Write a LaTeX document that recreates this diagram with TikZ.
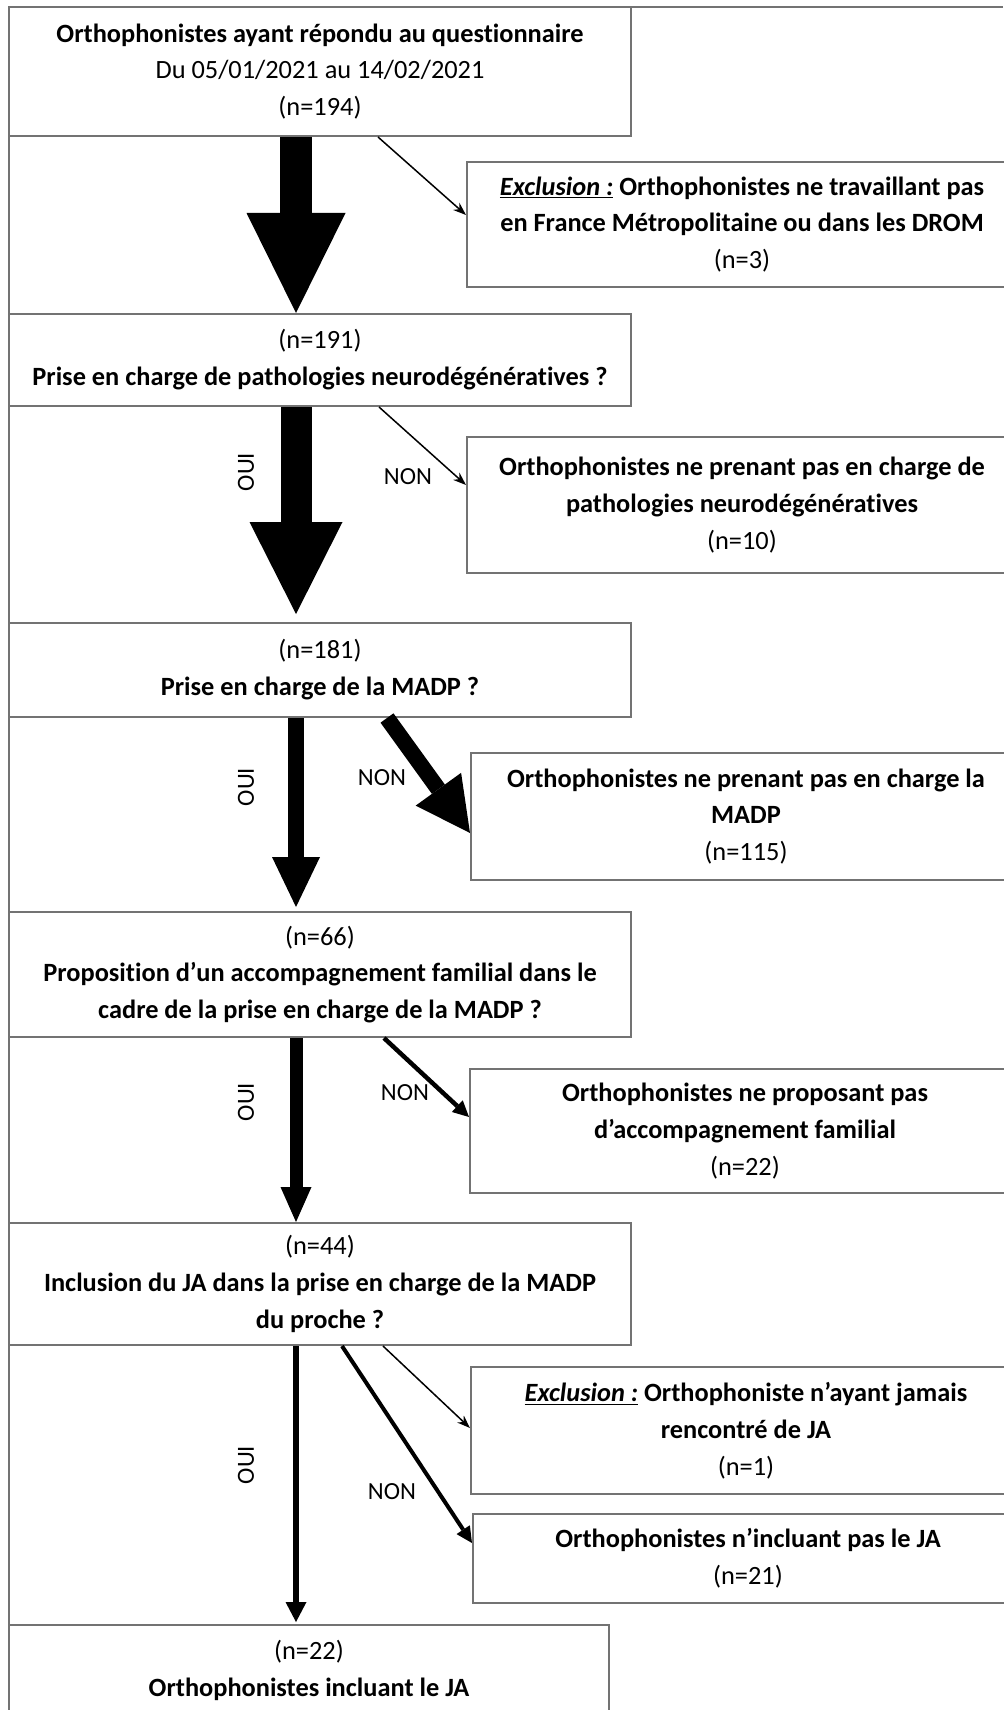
\documentclass[tikz,border=0pt]{standalone}
\usepackage{fontspec}
\setmainfont{Carlito}[Ligatures=NoCommon]
\usetikzlibrary{arrows.meta}

\begin{document}
\begin{tikzpicture}[x=0.2mm, y=-0.2mm,
    main box/.style={draw=black!55, line width=0.4mm, minimum width=124.4mm, align=center, inner sep=0pt},
    side box/.style={draw=black!55, line width=0.4mm, minimum width=110mm, align=center, inner sep=0pt},
    thin arrow/.style={-{Stealth[length=2.6mm, width=1.9mm]}, line width=0.3mm},
    mid arrow/.style={-{Triangle[length=3.2mm, width=3.2mm, line width=0pt]}, line width=0.9mm},
    lab/.style={font=\fontsize{14}{16}\selectfont}]
    \tikzstyle{every node}=[font=\fontsize{15}{21}\selectfont]

    % frame
    \useasboundingbox (0,0) rectangle (1003,1710);
    \draw[black!55, line width=0.5mm] (1003,7) -- (9,7) -- (9,1710);
    \coordinate (axis) at (296,0);

    % main column
    \node[main box, minimum height=25.8mm] (q1) at (320,71.5) {\textbf{Orthophonistes ayant répondu au questionnaire}\\Du 05/01/2021 au 14/02/2021\\(n=194)};
    \node[main box, minimum height=18.4mm] (q2) at (320,360) {(n=191)\\\textbf{Prise en charge de pathologies neurodégénératives ?}};
    \node[main box, minimum height=18.8mm] (q3) at (320,670) {(n=181)\\\textbf{Prise en charge de la MADP ?}};
    \node[main box, minimum height=25mm] (q4) at (320,974.5) {(n=66)\\\textbf{Proposition d’un accompagnement familial dans le}\\\textbf{cadre de la prise en charge de la MADP ?}};
    \node[main box, minimum height=24.4mm] (q5) at (320,1284) {(n=44)\\\textbf{Inclusion du JA dans la prise en charge de la MADP}\\\textbf{du proche ?}};
    \node[main box, minimum width=120mm, minimum height=18.2mm] (q6) at (309,1670.5) {(n=22)\\\textbf{Orthophonistes incluant le JA}};

    % side boxes
    \node[side box, minimum height=25mm] (e1) at (742,224.5) {\textbf{\underline{\textit{Exclusion :}} Orthophonistes ne travaillant pas}\\\textbf{en France Métropolitaine ou dans les DROM}\\(n=3)};
    \node[side box, minimum height=27.2mm] (e2) at (742,505) {\textbf{Orthophonistes ne prenant pas en charge de}\\\textbf{pathologies neurodégénératives}\\(n=10)};
    \node[side box, minimum height=25.4mm] (e3) at (746,816.5) {\textbf{Orthophonistes ne prenant pas en charge la}\\\textbf{MADP}\\(n=115)};
    \node[side box, minimum height=24.8mm] (e4) at (745,1131) {\textbf{Orthophonistes ne proposant pas}\\\textbf{d’accompagnement familial}\\(n=22)};
    \node[side box, minimum height=25.4mm] (e5) at (746,1430.5) {\textbf{\underline{\textit{Exclusion :}} Orthophoniste n’ayant jamais}\\\textbf{rencontré de JA}\\(n=1)};
    \node[side box, minimum height=17.8mm] (e6) at (748,1558.5) {\textbf{Orthophonistes n’incluant pas le JA}\\(n=21)};

    % OUI arrows
    \draw[line width=6.4mm, -{Triangle[length=20mm, width=19.8mm, line width=0pt]}] (q1.south -| axis) -- (q2.north -| axis);
    \draw[line width=6.2mm, -{Triangle[length=18.4mm, width=18.6mm, line width=0pt]}, shorten >=1.6mm] (q2.south -| axis) -- (q3.north -| axis);
    \draw[line width=3.2mm, -{Triangle[length=10mm, width=9.6mm, line width=0pt]}, shorten >=0.8mm] (q3.south -| axis) -- (q4.north -| axis);
    \draw[line width=2.6mm, -{Triangle[length=7mm, width=6.2mm, line width=0pt]}] (q4.south -| axis) -- (q5.north -| axis);
    \draw[line width=1.3mm, -{Triangle[length=4mm, width=4.2mm, line width=0pt]}, shorten >=0.4mm] (q5.south -| axis) -- (q6.north -| axis);

    % NON arrows
    \draw[thin arrow] (q1.south -| 378,0) -- (e1.west |- 0,215);
    \draw[thin arrow] (q2.south -| 379,0) -- (e2.west |- 0,485);
    \draw[line width=3.2mm, -{Triangle[length=10.8mm, width=11.2mm, line width=0pt]}] (q3.south -| 387,0) -- (e3.west |- 0,833);
    \draw[mid arrow] (q4.south -| 384,0) -- (e4.west |- 0,1117);
    \draw[thin arrow] (q5.south -| 383,0) -- (e5.west |- 0,1428);
    \draw[mid arrow, line width=0.8mm] (q5.south -| 342,0) -- (e6.west |- 0,1543);

    % labels
    \node[lab, rotate=90] (oui1) at (246,472) {OUI};
    \node[lab, rotate=90] (oui2) at (246,787) {OUI};
    \node[lab, rotate=90] (oui3) at (246,1102) {OUI};
    \node[lab, rotate=90] (oui4) at (246,1465) {OUI};
    \node[lab] (non1) at (408,477) {NON};
    \node[lab] (non2) at (382,778) {NON};
    \node[lab] (non3) at (405,1093) {NON};
    \node[lab] (non4) at (392,1492) {NON};
\end{tikzpicture}
\end{document}
